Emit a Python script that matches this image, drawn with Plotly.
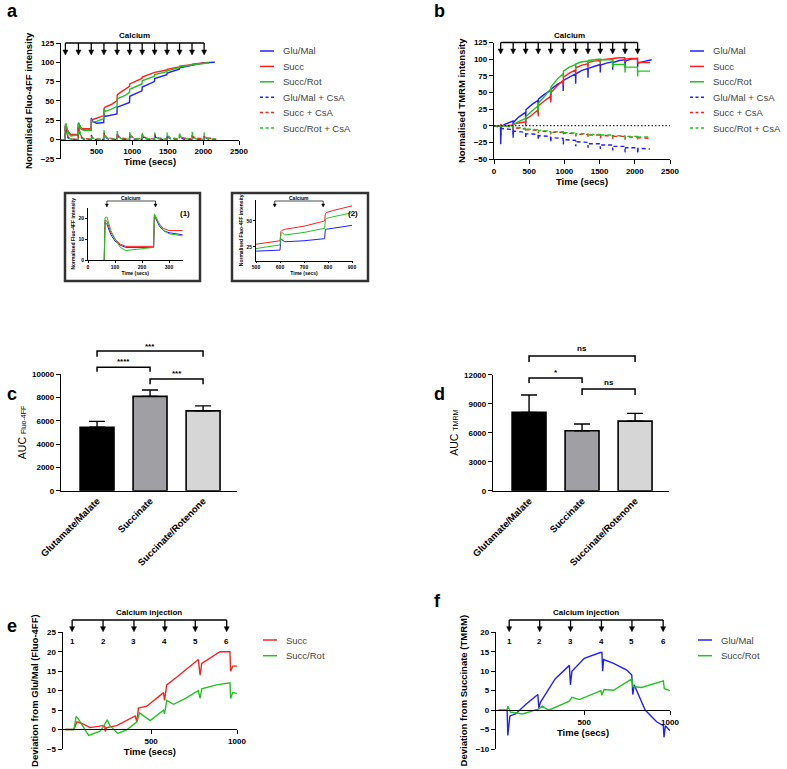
import plotly.graph_objects as go

W, H = 787, 769
FONT = "Liberation Sans, Arial, Helvetica, sans-serif"
BLUE, RED, GREEN = "#2020ff", "#ff2020", "#22c222"

# ---------------- Panel a : Fluo-4FF ----------------
A_INJ = [62, 245, 425, 603, 788, 965, 1140, 1315, 1490, 1665, 1840, 2010]
A_T = [0, 60, 63, 70, 85, 100, 120, 140, 243, 246, 250, 265, 280, 300, 350, 423, 426, 430, 450, 500, 600,
       604, 608, 620, 700, 786, 789, 793, 820, 900, 962, 966, 1137, 1141, 1312, 1316, 1487, 1491, 1662, 1666,
       1837, 1841, 2007, 2011]
A_GLU_T = A_T + [2160]
A_GLU = [-1, -1, 18, 17, 12, 9, 7, 6, 6, 21, 20, 16, 14, 13, 12, 12, 28, 26, 23, 21, 22,
         33, 32, 30, 31, 33, 42, 42, 43, 45.5, 48, 56, 63, 68, 75, 79, 84, 86, 91, 93,
         96, 97, 99, 99.5, 100]
A_SUCC_T = A_T + [2080]
A_SUCC = [-1, -1, 19, 18.5, 13, 10, 7.5, 6.5, 6.5, 21, 20, 17, 15, 14, 14, 14, 25, 26, 26, 27.5, 31,
          40, 41, 42, 45, 50, 57, 58, 60, 64.5, 69, 72, 79, 81, 86, 87, 90, 91, 94, 95,
          97, 97.5, 99, 99, 99.5]
A_ROT_T = A_T + [2080]
A_ROT = [-1, -1, 20, 20.5, 14, 10, 6, 4.5, 6, 22, 21, 17, 14, 12.5, 11.5, 12, 23, 24, 23, 23.5, 27,
         38, 39, 36.5, 39, 43, 51, 52.5, 54, 57, 61, 65, 72, 76, 82, 84, 88, 89, 93, 94,
         96.5, 97, 98.5, 99, 99.5]
A_CSA_T = [0, 60, 63, 75, 100, 150, 243, 246, 258, 290, 330, 423, 426, 440, 480, 601, 604, 615, 660,
           786, 789, 800, 845, 963, 966, 977, 1020, 1138, 1141, 1152, 1195, 1313, 1316, 1327, 1370,
           1488, 1491, 1502, 1545, 1663, 1666, 1677, 1720, 1838, 1841, 1852, 1895, 2008, 2011, 2022,
           2065, 2180]
A_GLU_CSA = [-1, -1, 17, 10, 2, 0, 0, 20, 10, 2, 0, 0, 6, 2, 0, 0, 9, 4, 0.5, 0, 9, 4, 0.5, 0, 8, 4, 0.5,
             0, 7, 3, 0.5, 0, 7, 3, 0.5, 0, 6, 3, 0.5, 0, 6, 3, 0.5, 0, 5, 2.5, 0.5, 0, 5, 2.5, 0.5, 0]
A_SUCC_CSA = [-1, -1, 18.5, 11, 3, 0.5, 0.5, 21, 11, 3, 1, 0.5, 4, 2, 0.5, 0.5, 8, 5, 2, 0.5, 8, 5, 2,
              0.5, 7, 5, 2, 0.5, 7, 4, 2, 0.5, 7, 4, 2, 0.5, 6, 4, 2, 0.5, 6, 4, 2, 0.5, 6, 4, 2,
              0.5, 5, 4, 2, 0.5]
A_ROT_CSA = [-1, -1, 20, 12, 3, 0, 0, 22, 12, 3, 0.5, 0.5, 5, 2, 0.5, 0.5, 12, 5, 1, 0.5, 11, 5, 1,
             0.5, 10, 5, 1, 0.5, 9, 4, 1, 0.5, 9, 4, 1, 0.5, 9, 4, 1, 0.5, 9, 4, 1, 0.5, 10, 4, 1,
             0.5, 9, 4, 1, 0.5]

# ---------------- Panel b : TMRM ----------------
B_INJ = [95, 272, 450, 628, 805, 983, 1160, 1335, 1510, 1686, 1861, 2040]
B_T = [0, 93, 95, 100, 150, 270, 272, 276, 350, 448, 450, 454, 540, 626, 628, 632, 700, 803, 805, 809,
       900, 981, 983, 987, 1070, 1158, 1160, 1164, 1250, 1333, 1335, 1339, 1420, 1508, 1510, 1514,
       1600, 1684, 1686, 1690, 1780, 1859, 1861, 1865, 1950, 2038, 2040, 2044, 2150]
B_GLU_T = B_T + [2240]
B_GLU = [0, -1, -28, -2, 2, 7, -18, 5, 13, 20, 4, 24, 32, 38, 18, 40, 46, 53, 38, 55, 62, 67, 52, 68,
         73, 78, 63, 78, 83, 86, 72, 86, 89, 92, 80, 91, 94, 96, 84, 95, 98, 99, 87, 97, 100, 101,
         88, 94, 97, 99]
B_SUCC_T = B_T + [2215]
B_SUCC = [0, 0, 2, 0, 0, 1, -3, 2, 4, 6, 0, 10, 16, 24, 14, 30, 36, 44, 35, 50, 60, 68, 60, 73, 79,
          84, 77, 87, 91, 93, 87, 95, 97, 98, 92, 99, 100, 101, 95, 101, 102, 102, 96, 100, 101,
          101, 93, 95, 95, 95]
B_ROT_T = B_T + [2215]
B_ROT = [0, 0, -1, 0, 0, 0, -2, 2, 6, 11, 8, 14, 22, 30, 22, 34, 42, 55, 48, 58, 70, 78, 72, 82, 88,
         92, 86, 93, 96, 97, 93, 98, 99, 100, 95, 99, 99, 99, 88, 92, 92, 92, 80, 88, 88, 88, 74,
         82, 82, 82]
B_CSA_T = [0, 93, 96, 102, 270, 273, 279, 448, 451, 457, 626, 629, 635, 803, 806, 812, 981, 984, 990,
           1158, 1161, 1167, 1333, 1336, 1342, 1508, 1511, 1517, 1684, 1687, 1693, 1859, 1862, 1868,
           2038, 2041, 2047, 2215]
B_GLU_CSA = [0, -3, -15, -4, -6, -14, -8, -10, -18, -12, -13, -21, -15, -16, -25, -18, -19, -28, -21,
             -22, -31, -24, -25, -33, -27, -27, -35, -29, -29, -37, -31, -31, -40, -33, -33, -42, -34, -35]
B_SUCC_CSA = [0, 0, 2, 0, -2, -6, -3, -5, -9, -6, -7, -11, -8, -9, -13, -10, -10, -14, -11, -12, -16,
              -13, -13, -17, -14, -14, -19, -15, -15, -20, -16, -16, -21, -17, -17, -22, -18, -19]
B_ROT_CSA = [0, 0, -2, 0, -1, -4, -2, -4, -8, -5, -6, -10, -7, -8, -12, -9, -9, -13, -10, -11, -15,
             -12, -12, -16, -13, -13, -17, -14, -14, -18, -15, -15, -19, -16, -16, -20, -17, -17]

A_NAMES = ["Glu/Mal", "Succ", "Succ/Rot", "Glu/Mal + CsA", "Succ + CsA", "Succ/Rot + CsA"]

# ---------------- Insets ----------------
INSET1_INJ = [70, 250]
INSET2_INJ = [578, 780]

# ---------------- Panels c, d : AUC ----------------
CATS = ["Glutamate/Malate", "Succinate", "Succinate/Rotenone"]
C_AUC = [5450, 8100, 6850]
C_ERR = [500, 550, 430]
D_AUC = [8100, 6200, 7200]
D_ERR = [1800, 700, 800]
BAR_COLORS = ["#000000", "#a0a0a4", "#d6d6d6"]
C_SIG = [("***", 0, 2), ("****", 0, 1), ("***", 1, 2)]
D_SIG = [("ns", 0, 2), ("*", 0, 1), ("ns", 1, 2)]

# ---------------- Panels e, f : deviations ----------------
E_INJ = [40, 220, 400, 580, 757, 940]
F_INJ = [62, 240, 420, 600, 778, 960]
E_SUCC_T = [0, 50, 68, 100, 145, 219, 230, 233, 240, 300, 407, 417, 426, 475, 572, 578, 591, 650, 775,
            785, 795, 901, 959, 963, 975, 1000]
E_SUCC = [0, 0, 2, 1.5, 0.5, 1, 0.8, -0.5, 0.5, 1, 3.5, 2, 5.5, 6, 9.5, 7.5, 11.5, 13.5, 18, 14, 17,
          20, 20, 15, 16.3, 16.3]
E_ROT_T = [0, 50, 63, 72, 136, 200, 219, 244, 260, 306, 360, 407, 417, 433, 494, 572, 578, 591, 630,
           700, 775, 785, 795, 880, 959, 963, 975, 1000]
E_ROT = [0, 0, 3.3, 3, -1.5, -0.5, 0.5, 2.5, 1, -1, 0, 1.5, 2, 4.3, 2.3, 5, 4, 7.5, 6.5, 8, 10, 8,
         10.5, 11.5, 12, 8, 9.5, 9.3]
F_GLU_T = [0, 50, 54, 66, 99, 160, 229, 235, 244, 330, 413, 419, 428, 500, 593, 603, 607, 613, 671,
           748, 777, 783, 791, 855, 922, 961, 965, 973, 1000]
F_GLU = [0, 0, -6.5, -1.5, -1, 1.5, 4, 0.5, 2, 8, 11.5, 6.5, 10, 13.3, 14.8, 14.8, 10, 13, 12, 10.3,
         9, 4, 6.5, 0, -3, -4, -7, -4, -5.3]
F_ROT_T = [0, 50, 54, 70, 140, 235, 254, 293, 413, 428, 471, 597, 603, 615, 671, 777, 785, 834, 961,
           967, 1000]
F_ROT = [0, 0, 1, -0.5, -1, 0.3, 1, 0, 2.3, 3.3, 2.7, 5, 3.8, 5.3, 5.1, 8, 6, 5.8, 7.5, 5.5, 5]


# ================= helpers =================
def fx(px):
    return px / W


def fy(py):
    return 1 - py / H


# x-axis geometry: pixel span and data range (used for layout + arrow-head widths)
XGEOM = {
    "x": (61, 239, [0, 2500]),
    "x2": (494, 670, [0, 2500]),
    "x3": (88, 182.5, [0, 350]),
    "x4": (256, 352, [500, 900]),
    "x5": (61, 237, [-0.68, 2.64]),
    "x6": (493, 669, [-0.68, 2.64]),
    "x7": (62.7, 237, [-15, 1000]),
    "x8": (496, 670, [-15, 1000]),
}


def xdom(key):
    a, b, _ = XGEOM[key]
    return [a / W, b / W]


def px_to_dx(key, px):
    a, b, r = XGEOM[key]
    return px * (r[1] - r[0]) / (b - a)


def ydom(bottom, top):
    return [1 - bottom / H, 1 - top / H]


TICKF = dict(family=FONT, size=8, color="black", weight="bold")
TITLEF = dict(family=FONT, size=9.5, color="black", weight="bold")
INSF = dict(family=FONT, size=5, color="black", weight="bold")


def axis(domain, rng, tickvals, title=None, standoff=None, tickfont=TICKF, titlefont=TITLEF, lw=1.3,
         tl=4, **kw):
    d = dict(domain=domain, range=rng, tickvals=tickvals, showline=True, linecolor="black",
             linewidth=lw, ticks="outside", ticklen=tl, tickwidth=lw, tickcolor="black",
             showgrid=False, zeroline=False, tickfont=tickfont, fixedrange=True,
             tickformat="d")
    if title is not None:
        d["title"] = dict(text=title, font=titlefont, standoff=standoff)
    d.update(kw)
    return d


fig = go.Figure()


def line(t, v, color, xa, ya, dash="solid", width=1.4):
    fig.add_trace(go.Scatter(x=t, y=v, mode="lines", xaxis=xa, yaxis=ya, hoverinfo="skip",
                             line=dict(color=color, width=width, dash=dash), showlegend=False))


DASH = "4px,3px"
# panel a
for t, v, c in [(A_GLU_T, A_GLU, BLUE), (A_SUCC_T, A_SUCC, RED), (A_ROT_T, A_ROT, GREEN)]:
    line(t, v, c, "x", "y")
for v, c in [(A_GLU_CSA, BLUE), (A_SUCC_CSA, RED), (A_ROT_CSA, GREEN)]:
    line(A_CSA_T, v, c, "x", "y", dash=DASH)
# insets reuse the panel a data
for xa, ya in [("x3", "y3"), ("x4", "y4")]:
    for t, v, c in [(A_GLU_T, A_GLU, BLUE), (A_SUCC_T, A_SUCC, RED), (A_ROT_T, A_ROT, GREEN)]:
        line(t, v, c, xa, ya, width=1)
# panel b
for t, v, c in [(B_GLU_T, B_GLU, BLUE), (B_SUCC_T, B_SUCC, RED), (B_ROT_T, B_ROT, GREEN)]:
    line(t, v, c, "x2", "y2")
for v, c in [(B_GLU_CSA, BLUE), (B_SUCC_CSA, RED), (B_ROT_CSA, GREEN)]:
    line(B_CSA_T, v, c, "x2", "y2", dash=DASH)
# panels c, d
for vals, errs, xa, ya in [(C_AUC, C_ERR, "x5", "y5"), (D_AUC, D_ERR, "x6", "y6")]:
    fig.add_trace(go.Bar(x=list(range(len(CATS))), y=vals, width=0.64, xaxis=xa, yaxis=ya,
                         marker=dict(color=BAR_COLORS, line=dict(color="black", width=1.6)),
                         error_y=dict(type="data", array=errs, arrayminus=[0] * len(errs),
                                      symmetric=False, color="black", thickness=1.4, width=8),
                         hoverinfo="skip", showlegend=False))
# panels e, f
line(E_SUCC_T, E_SUCC, RED, "x7", "y7")
line(E_ROT_T, E_ROT, GREEN, "x7", "y7")
line(F_GLU_T, F_GLU, BLUE, "x8", "y8")
line(F_ROT_T, F_ROT, GREEN, "x8", "y8")

CATF = dict(family=FONT, size=9.5, color="black", weight="bold")
AUCF = dict(family=FONT, size=10.5, color="black")
SMALL = "<span style='font-size:7px'>{}</span>"
fig.update_layout(
    width=W, height=H, margin=dict(l=0, r=0, t=0, b=0), template="none",
    paper_bgcolor="white", plot_bgcolor="rgba(0,0,0,0)", showlegend=False,
    font=dict(family=FONT, color="black"),
    xaxis=axis(xdom("x"), XGEOM["x"][2], [500, 1000, 1500, 2000, 2500], "Time (secs)", 1,
               anchor="free", position=fy(139.5)),
    yaxis=axis(ydom(158.8, 43), [-25, 125], [-25, 0, 25, 50, 75, 100, 125],
               "Normalised Fluo-4FF intensity", 6, anchor="x"),
    xaxis2=axis(xdom("x2"), XGEOM["x2"][2], [0, 500, 1000, 1500, 2000, 2500], "Time (secs)", 1,
                anchor="y2"),
    yaxis2=axis(ydom(159, 42.5), [-50, 125], [-50, -25, 0, 25, 50, 75, 100, 125],
                "Normalised TMRM intensity", 6, anchor="x2"),
    xaxis3=axis(xdom("x3"), XGEOM["x3"][2], [0, 100, 200, 300], "Time (secs)", 1, tickfont=INSF,
                titlefont=INSF, lw=0.8, tl=2, anchor="y3"),
    yaxis3=axis(ydom(260, 207.5), [0, 25], [0, 10, 20], "Normalised Fluo-4FF intensity", 2,
                tickfont=INSF, titlefont=INSF, lw=0.8, tl=2, anchor="x3"),
    xaxis4=axis(xdom("x4"), XGEOM["x4"][2], [500, 600, 700, 800, 900], "Time (secs)", 1,
                tickfont=INSF, titlefont=INSF, lw=0.8, tl=2, anchor="y4"),
    yaxis4=axis(ydom(260.5, 200.2), [12, 70], [25, 50], "Normalised Fluo-4FF intensity", 2,
                tickfont=INSF, titlefont=INSF, lw=0.8, tl=2, anchor="x4"),
    xaxis5=axis(xdom("x5"), XGEOM["x5"][2], [0, 1, 2], ticktext=CATS, tickangle=-45, ticks="",
                tickfont=CATF, anchor="y5"),
    yaxis5=axis(ydom(490.7, 374.2), [0, 10000], [0, 2000, 4000, 6000, 8000, 10000],
                "AUC " + SMALL.format("Fluo-4FF"), 3, titlefont=AUCF, anchor="x5"),
    xaxis6=axis(xdom("x6"), XGEOM["x6"][2], [0, 1, 2], ticktext=CATS, tickangle=-45, ticks="",
                tickfont=CATF, anchor="y6"),
    yaxis6=axis(ydom(490.7, 374.7), [0, 12000], [0, 3000, 6000, 9000, 12000],
                "AUC " + SMALL.format("TMRM"), 3, titlefont=AUCF, anchor="x6"),
    xaxis7=axis(xdom("x7"), XGEOM["x7"][2], [500, 1000], "Time (secs)", 1,
                anchor="free", position=fy(729.3)),
    yaxis7=axis(ydom(749, 632.3), [-5, 25], [-5, 0, 5, 10, 15, 20, 25],
                "Deviation from Glu/Mal (Fluo-4FF)", 6, anchor="x7"),
    xaxis8=axis(xdom("x8"), XGEOM["x8"][2], [500, 1000], "Time (secs)", 1,
                anchor="free", position=fy(710)),
    yaxis8=axis(ydom(749, 632.3), [-10, 20], [-10, -5, 0, 5, 10, 15, 20],
                "Deviation from Succinate (TMRM)", 6, anchor="x8"),
)


def text(x, y, s, size=8, bold=True, xref="paper", color="black", xanchor="center", yanchor="middle"):
    fig.add_annotation(x=x, y=y, xref=xref, yref="paper", text=s, showarrow=False,
                       xanchor=xanchor, yanchor=yanchor,
                       font=dict(family=FONT, size=size, color=color,
                                 weight="bold" if bold else "normal"))


def injections(xref, times, line_py, tip_py, label, label_py, size=8, lw=1.3, head=5.0,
               numbers=False, num_py=None):
    y_line = fy(line_py)
    fig.add_shape(type="line", xref=xref, yref="paper", x0=times[0], x1=times[-1],
                  y0=y_line, y1=y_line, line=dict(color="black", width=lw))
    hw = px_to_dx(xref, head * 0.5)
    for i, t in enumerate(times):
        fig.add_shape(type="line", xref=xref, yref="paper", x0=t, x1=t, y0=y_line,
                      y1=fy(tip_py - head + 0.5), line=dict(color="black", width=lw))
        fig.add_shape(type="path", xref=xref, yref="paper",
                      path=f"M {t - hw},{fy(tip_py - head)} L {t + hw},{fy(tip_py - head)} L {t},{fy(tip_py)} Z",
                      fillcolor="black", line=dict(color="black", width=0.5))
        if numbers:
            text(t, fy(num_py), str(i + 1), size=size, xref=xref)
    text((times[0] + times[-1]) / 2, fy(label_py), label, size=size, xref=xref)


injections("x", A_INJ, 43, 55, "Calcium", 35)
injections("x2", B_INJ, 42.5, 54, "Calcium", 35)
injections("x3", INSET1_INJ, 201, 207, "Calcium", 197.5, size=5, lw=0.7, head=3)
injections("x4", INSET2_INJ, 201, 207, "Calcium", 197.5, size=5, lw=0.7, head=3)
injections("x7", E_INJ, 620, 631.7, "Calcium injection", 612.7, numbers=True, num_py=641.7)
injections("x8", F_INJ, 620, 631.7, "Calcium injection", 612.7, numbers=True, num_py=641.7)

# dotted zero line in panel b
fig.add_shape(type="line", xref="x2", yref="y2", x0=0, x1=2500, y0=0, y1=0,
              line=dict(color="black", width=1, dash="1.5px,2px"))

# inset frames
for x0, x1, lab in [(65, 200, "(1)"), (232, 368, "(2)")]:
    fig.add_shape(type="rect", xref="paper", yref="paper", x0=fx(x0), x1=fx(x1), y0=fy(281),
                  y1=fy(193), line=dict(color="#333333", width=2.5))
    text(fx(x1 - 15), fy(213), lab, size=8)


# significance brackets
def sig(xref, x0, x1, line_py, drop_py, label, label_py):
    fig.add_shape(type="path", xref=xref, yref="paper",
                  path=f"M {x0},{fy(drop_py)} L {x0},{fy(line_py)} L {x1},{fy(line_py)} L {x1},{fy(drop_py)}",
                  line=dict(color="black", width=1.5))
    text((x0 + x1) / 2, fy(label_py), label, size=8, xref=xref)


for (lab, a, b), (lp, dp, tp) in zip(C_SIG, [(351, 356.7, 346), (367.3, 371.7, 361.7), (379, 384.3, 374)]):
    sig("x5", a, b, lp, dp, lab, tp)
for (lab, a, b), (lp, dp, tp) in zip(D_SIG, [(356, 362, 349), (378, 383, 372), (389, 395, 382)]):
    sig("x6", a, b, lp, dp, lab, tp)


# manual legends
def legend(x0, y0, names, colors, dashes, step=15.4):
    for i, (n, c, d) in enumerate(zip(names, colors, dashes)):
        y = fy(y0 + i * step)
        fig.add_shape(type="line", xref="paper", yref="paper", x0=fx(x0), x1=fx(x0 + 14), y0=y, y1=y,
                      line=dict(color=c, width=1.5, dash=d))
        text(fx(x0 + 21), y, n, size=9.5, bold=False, color="#444444", xanchor="left")


COLS6 = [BLUE, RED, GREEN, BLUE, RED, GREEN]
DASH6 = ["solid"] * 3 + ["3px,2.5px"] * 3
legend(260, 51, A_NAMES, COLS6, DASH6)
legend(690, 51, A_NAMES, COLS6, DASH6)
legend(263, 640, ["Succ", "Succ/Rot"], [RED, GREEN], ["solid", "solid"], step=15.7)
legend(698, 640, ["Glu/Mal", "Succ/Rot"], [BLUE, GREEN], ["solid", "solid"], step=15.7)

# panel letters
for lab, x, y in [("a", 5, 11), ("b", 432, 11), ("c", 5, 394), ("d", 432, 394), ("e", 5, 626), ("f", 432, 601)]:
    text(fx(x), fy(y), lab, size=18, xanchor="left")

fig.write_html("out.html", config={"displayModeBar": False},
               post_script="document.body.style.margin='0';document.body.style.overflow='hidden';")
